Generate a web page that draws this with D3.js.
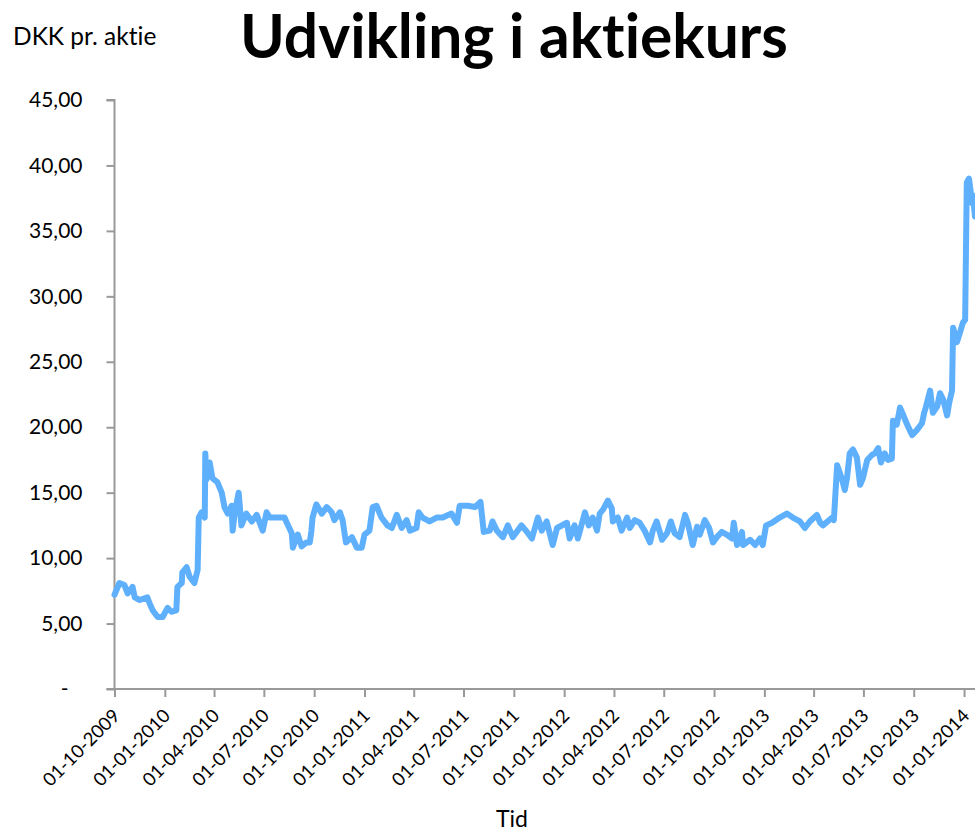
<!DOCTYPE html>
<html>
<head>
<meta charset="utf-8">
<script src="https://cdn.jsdelivr.net/npm/d3@7"></script>
<style>
  body { margin: 0; background: #fff; }
  text { font-family: "Gill Sans", "Lato", sans-serif; fill: #000; font-variant-ligatures: none; }
</style>
</head>
<body>
<svg id="chart"></svg>
<script>
// share price, DKK per share
const dates = [
  "2009-10-01","2009-10-10","2009-10-19","2009-10-25","2009-11-03","2009-11-07","2009-11-16","2009-11-30",
  "2009-12-04","2009-12-10","2009-12-19","2009-12-28","2010-01-06","2010-01-13","2010-01-22","2010-01-24",
  "2010-02-01","2010-02-02","2010-02-10","2010-02-15","2010-02-24","2010-03-02","2010-03-04","2010-03-09",
  "2010-03-15","2010-03-16","2010-03-18","2010-03-24","2010-03-29","2010-04-07","2010-04-15","2010-04-20",
  "2010-04-26","2010-05-03","2010-05-05","2010-05-09","2010-05-16","2010-05-21","2010-05-30","2010-06-09",
  "2010-06-18","2010-06-29","2010-07-06","2010-07-12","2010-07-30","2010-08-08","2010-08-12","2010-08-21",
  "2010-08-23","2010-09-01","2010-09-08","2010-09-17","2010-09-23","2010-09-26","2010-09-28","2010-10-05",
  "2010-10-15","2010-10-24","2010-11-02","2010-11-07","2010-11-17","2010-11-22","2010-11-28","2010-12-09",
  "2010-12-18","2010-12-27","2011-01-01","2011-01-10","2011-01-16","2011-01-23","2011-02-01","2011-02-12",
  "2011-02-20","2011-03-01","2011-03-10","2011-03-19","2011-03-25","2011-04-06","2011-04-10","2011-04-17",
  "2011-04-30","2011-05-13","2011-05-24","2011-06-09","2011-06-19","2011-06-24","2011-07-09","2011-07-22",
  "2011-08-01","2011-08-07","2011-08-18","2011-08-23","2011-08-31","2011-09-11","2011-09-20","2011-09-29",
  "2011-10-15","2011-10-25","2011-11-03","2011-11-14","2011-11-21","2011-11-30","2011-12-11","2011-12-19",
  "2012-01-06","2012-01-11","2012-01-20","2012-01-26","2012-02-08","2012-02-15","2012-02-22","2012-03-01",
  "2012-03-06","2012-03-12","2012-03-21","2012-03-28","2012-03-30","2012-04-08","2012-04-15","2012-04-25",
  "2012-04-30","2012-05-09","2012-05-18","2012-05-27","2012-06-06","2012-06-11","2012-06-18","2012-06-28",
  "2012-07-07","2012-07-14","2012-07-21","2012-07-30","2012-08-09","2012-08-14","2012-08-23","2012-08-31",
  "2012-09-05","2012-09-14","2012-09-22","2012-09-29","2012-10-06","2012-10-15","2012-10-24","2012-11-03",
  "2012-11-06","2012-11-12","2012-11-21","2012-11-23","2012-12-06","2012-12-15","2012-12-24","2012-12-29",
  "2013-01-04","2013-01-15","2013-01-29","2013-02-11","2013-02-22","2013-03-07","2013-03-16","2013-03-25",
  "2013-04-07","2013-04-13","2013-04-18","2013-05-05","2013-05-08","2013-05-14","2013-05-23","2013-05-28",
  "2013-06-01","2013-06-06","2013-06-12","2013-06-19","2013-06-25","2013-06-30","2013-07-08","2013-07-17",
  "2013-07-22","2013-07-28","2013-08-02","2013-08-09","2013-08-15","2013-08-22","2013-08-24","2013-08-31",
  "2013-09-06","2013-09-13","2013-09-19","2013-09-28","2013-10-07","2013-10-16","2013-10-20","2013-10-23",
  "2013-10-31","2013-11-05","2013-11-13","2013-11-18","2013-11-24","2013-12-01","2013-12-05","2013-12-10",
  "2013-12-12","2013-12-19","2013-12-25","2013-12-30","2014-01-03","2014-01-06","2014-01-10","2014-01-16",
  "2014-01-17","2014-01-21"
];
const prices = [
  7.2, 8.1, 7.95, 7.3, 7.8, 7.0, 6.8, 7.0,
  6.55, 6.0, 5.5, 5.5, 6.2, 5.9, 6.0, 7.8,
  8.1, 8.9, 9.3, 8.6, 8.1, 9.1, 13.1, 13.5,
  13.1, 18.0, 16.0, 17.3, 16.1, 15.8, 15.0, 13.9,
  13.4, 14.0, 12.1, 13.5, 15.0, 12.5, 13.4, 12.8,
  13.3, 12.1, 13.5, 13.1, 13.1, 13.1, 12.7, 11.9,
  10.8, 11.8, 10.9, 11.2, 11.2, 12.1, 13.1, 14.1,
  13.4, 13.9, 13.5, 12.9, 13.5, 12.9, 11.2, 11.6,
  10.8, 10.8, 11.8, 12.1, 13.9, 14.0, 13.1, 12.5,
  12.3, 13.3, 12.3, 12.9, 12.1, 12.3, 13.5, 13.1,
  12.8, 13.1, 13.1, 13.4, 12.7, 14.0, 14.0, 13.9,
  14.3, 12.0, 12.1, 12.8, 12.1, 11.6, 12.5, 11.6,
  12.5, 12.0, 11.5, 13.1, 12.1, 12.8, 11.0, 12.3,
  12.7, 11.5, 12.5, 11.5, 13.5, 12.5, 13.1, 12.1,
  13.4, 13.7, 14.4, 13.8, 12.8, 13.1, 12.1, 13.1,
  12.3, 12.9, 12.7, 12.1, 11.2, 12.1, 12.8, 11.4,
  11.9, 12.8, 11.9, 11.6, 13.3, 12.7, 11.0, 12.4,
  11.8, 12.9, 12.3, 11.2, 11.6, 12.0, 11.8, 11.5,
  12.7, 11.0, 12.0, 11.0, 11.4, 11.0, 11.5, 11.0,
  12.5, 12.7, 13.1, 13.4, 13.1, 12.8, 12.3, 12.8,
  13.3, 12.7, 12.5, 13.1, 12.9, 17.1, 16.0, 15.2,
  16.1, 18.0, 18.3, 17.7, 15.6, 16.1, 17.5, 17.9,
  18.0, 18.4, 17.3, 18.0, 17.5, 17.6, 20.5, 20.2,
  21.5, 20.8, 20.2, 19.4, 19.8, 20.3, 21.1, 21.5,
  22.8, 21.1, 21.6, 22.6, 22.1, 20.9, 21.9, 22.8,
  27.6, 26.5, 27.3, 28.0, 28.2, 38.7, 39.0, 37.1,
  37.7, 36.1
];
const yTicks = [0, 5, 10, 15, 20, 25, 30, 35, 40, 45];
const xTicks = [
  "2009-10-01","2010-01-01","2010-04-01","2010-07-01","2010-10-01",
  "2011-01-01","2011-04-01","2011-07-01","2011-10-01","2012-01-01","2012-04-01",
  "2012-07-01","2012-10-01","2013-01-01","2013-04-01","2013-07-01","2013-10-01","2014-01-01"
];
const axisStart = "2009-10-01", axisEnd = "2014-01-21";

const width = 975, height = 833;
const margin = {top: 100, right: 0, bottom: 144, left: 114.5};

const parse = d3.timeParse("%Y-%m-%d");
const fmt = d3.timeFormat("%d-%m-%Y");
const data = dates.map((d, i) => ({date: parse(d), v: prices[i]}));

const svg = d3.select("#chart")
  .attr("width", width)
  .attr("height", height);

const x = d3.scaleTime()
  .domain([parse(axisStart), parse(axisEnd)])
  .range([margin.left, width - margin.right]);

const y = d3.scaleLinear()
  .domain([0, 45])
  .range([height - margin.bottom, margin.top]);

const axisColor = "#999";

// y axis
const yAxis = svg.append("g")
  .attr("transform", `translate(${margin.left},0)`)
  .call(d3.axisLeft(y).tickValues(yTicks).tickSize(8).tickPadding(24)
    .tickFormat(d => d === 0 ? "-" : d3.format(".2f")(d).replace(".", ",")));
yAxis.select(".domain").attr("stroke", axisColor).attr("stroke-width", 2).attr("d", `M-8,${y(45)}H0V${y(0)}`);
yAxis.selectAll(".tick line").attr("stroke", axisColor).attr("stroke-width", 2);
yAxis.selectAll(".tick text")
  .style("font-size", "21px")
  .attr("fill", "#000");
yAxis.selectAll(".tick").filter(d => d === 0).select("text").attr("dx", -14);

// x axis
const xAxis = svg.append("g")
  .attr("transform", `translate(0,${y(0)})`)
  .call(d3.axisBottom(x).tickValues(xTicks.map(parse)).tickSize(8).tickFormat(fmt));
xAxis.select(".domain").attr("stroke", axisColor).attr("stroke-width", 2).attr("d", `M${margin.left - 8},0H${width}`);
xAxis.selectAll(".tick line").attr("stroke", axisColor).attr("stroke-width", 2);
xAxis.selectAll(".tick text")
  .style("font-size", "18.5px")
  .attr("fill", "#000")
  .attr("text-anchor", "end")
  .attr("dy", null)
  .attr("y", 0)
  .attr("transform", "translate(6,28) rotate(-45)");

// price line
svg.append("path")
  .datum(data)
  .attr("fill", "none")
  .attr("stroke", "#5eb0fc")
  .attr("stroke-width", 6)
  .attr("stroke-linejoin", "round")
  .attr("stroke-linecap", "round")
  .attr("d", d3.line().x(d => x(d.date)).y(d => y(d.v)));

// titles
const title = svg.append("text")
  .attr("x", 240).attr("y", 58)
  .style("font-size", "54px").style("font-weight", "bold")
  .text("Udvikling i aktiekurs");
const tw = title.node().getComputedTextLength();
title.style("font-size", (54 * 548 / tw) + "px");

svg.append("text")
  .attr("x", 13).attr("y", 45)
  .style("font-size", "24.5px")
  .text("DKK pr. aktie");

svg.append("text")
  .attr("x", 512).attr("y", 827)
  .attr("text-anchor", "middle")
  .style("font-size", "23px")
  .text("Tid");
</script>
</body>
</html>
